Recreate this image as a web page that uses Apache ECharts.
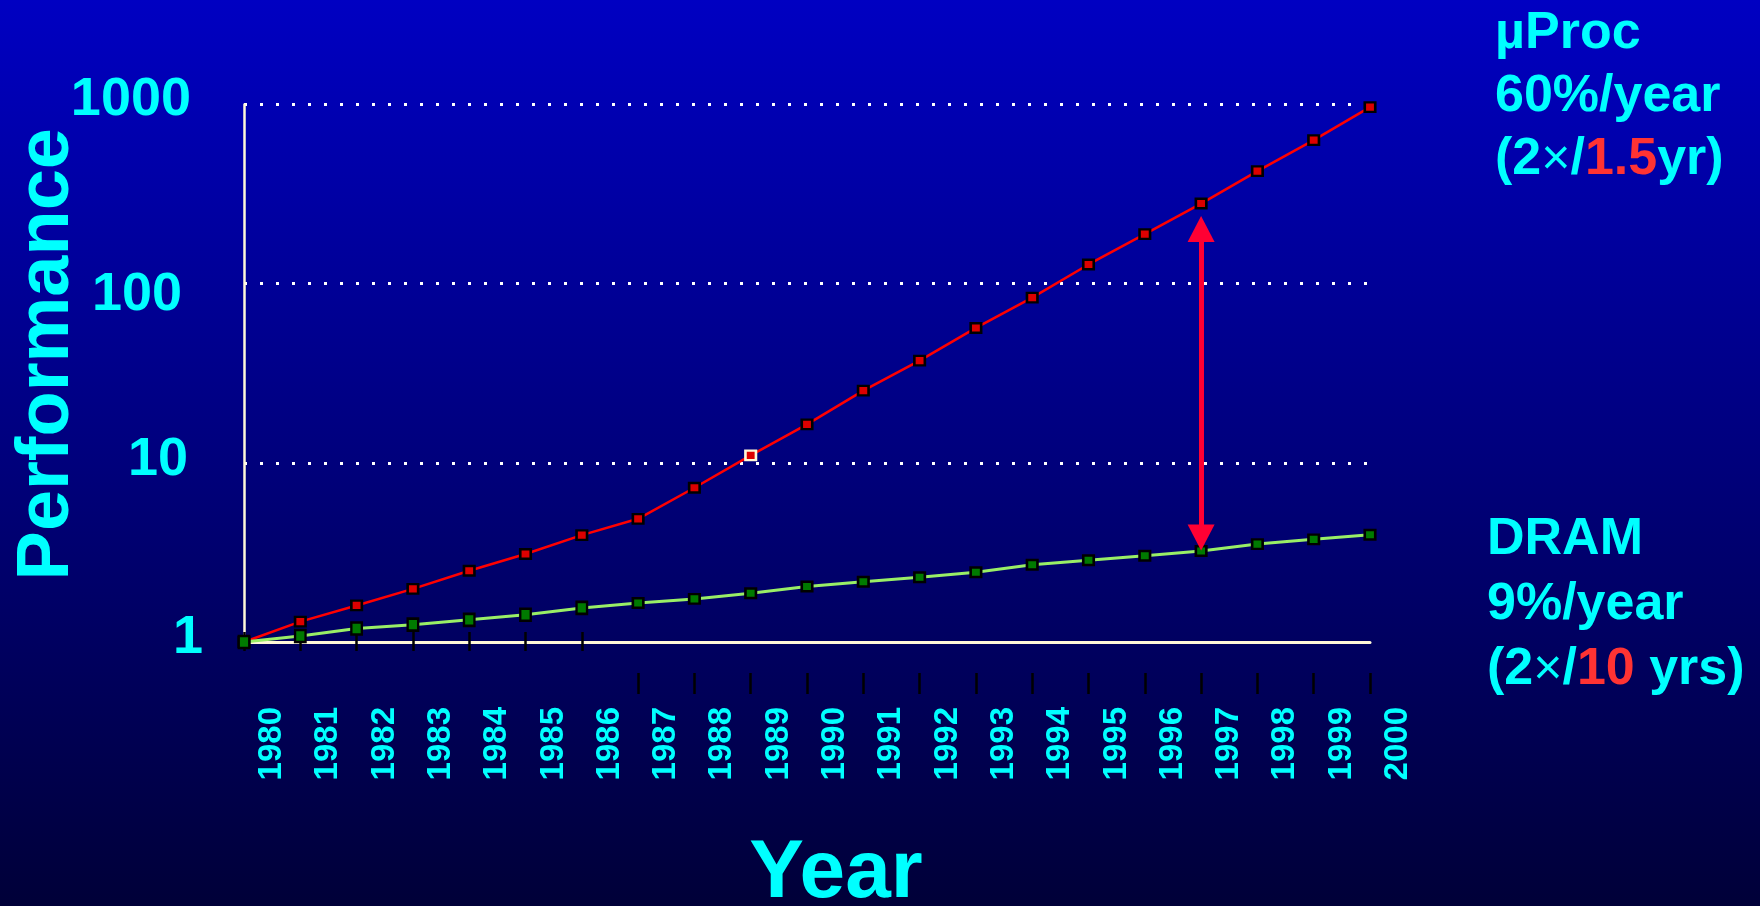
<!DOCTYPE html>
<html>
<head>
<meta charset="utf-8">
<script src="https://cdn.jsdelivr.net/npm/echarts@6/dist/echarts.min.js"></script>
<style>
  html, body { margin: 0; padding: 0; background: #000070; }
  #chart { width: 1760px; height: 906px; }
</style>
</head>
<body>
<div id="chart"></div>
<script>
  // values (log scale, 1980 = 1)
  const years = ['1980', '1981', '1982', '1983', '1984', '1985', '1986', '1987', '1988', '1989',
    '1990', '1991', '1992', '1993', '1994', '1995', '1996', '1997', '1998', '1999', '2000']
  const procPerf = [1, 1.3, 1.6, 1.98, 2.5, 3.1, 3.95, 4.87, 7.26, 11.0,
    16.4, 25.3, 37.2, 56.6, 83.6, 128, 189, 280, 425, 633, 967]
  const dramPerf = [1, 1.08, 1.19, 1.25, 1.33, 1.42, 1.55, 1.65, 1.74, 1.87,
    2.04, 2.17, 2.30, 2.45, 2.70, 2.86, 3.03, 3.22, 3.52, 3.74, 3.97]
  // the gap arrow between the two curves
  const gapYear = '1997'
  const gapTop = 202
  const gapBottom = 3.83

  const font = '"Liberation Sans", Arial, sans-serif'
  const cyan = '#00ffff'
  const cream = '#fff8d8'

  // small per-label nudges so the y labels sit like the slide
  const yLabelPad = {
    '1': [0, 0, 8, 0],
    '10': [0, 15, 6, 0],
    '100': [22, 21, 0, 0],
    '1000': [0, 12, 9, 0]
  }
  const yRich = {}
  Object.keys(yLabelPad).forEach(k => {
    yRich['v' + k] = { color: cyan, fontSize: 54, fontWeight: 'bold', fontFamily: font, padding: yLabelPad[k] }
  })

  const noteStyle = (lh) => ({
    c: { fill: cyan, fontSize: 52, fontWeight: 'bold', fontFamily: font, lineHeight: lh },
    x: { fill: cyan, fontSize: 50, fontWeight: 'normal', fontFamily: font, lineHeight: lh },
    r: { fill: '#ff3333', fontSize: 52, fontWeight: 'bold', fontFamily: font, lineHeight: lh }
  })

  const chart = echarts.init(document.getElementById('chart'))
  chart.setOption({
    animation: false,
    backgroundColor: {
      type: 'linear', x: 0, y: 0, x2: 0, y2: 1,
      colorStops: [{ offset: 0, color: '#0000c2' }, { offset: 1, color: '#000038' }]
    },
    grid: [
      { left: 244, right: 390, top: 104.5, bottom: 264, containLabel: false, outerBoundsMode: 'none' },
      { left: 272, right: 362, top: 104.5, bottom: 264, containLabel: false, outerBoundsMode: 'none' }
    ],
    xAxis: [
      {
        type: 'category', gridIndex: 0, data: years, boundaryGap: false,
        axisLine: { lineStyle: { color: cream, width: 3 } },
        axisTick: { show: false },
        axisLabel: { show: false },
        name: 'Year', nameLocation: 'middle', nameGap: 191, nameMoveOverlap: false,
        nameTextStyle: { color: cyan, fontSize: 82, fontWeight: 'bold', fontFamily: font, padding: [0, 0, 0, 58] }
      },
      {
        type: 'category', gridIndex: 0, data: years, boundaryGap: false, position: 'bottom', offset: -10,
        axisLine: { show: false },
        axisTick: { show: true, length: 19, interval: (i) => i <= 6, lineStyle: { color: '#000', width: 2.5 } },
        axisLabel: { show: false }
      },
      {
        type: 'category', gridIndex: 0, data: years, boundaryGap: false, position: 'bottom', offset: 31,
        axisLine: { show: false },
        axisTick: { show: true, length: 21, interval: (i) => i >= 7, lineStyle: { color: '#000', width: 2.5 } },
        axisLabel: { show: false }
      },
      {
        type: 'category', gridIndex: 1, data: years, boundaryGap: false,
        axisLine: { show: false },
        axisTick: { show: false },
        axisLabel: {
          rotate: 90, margin: 65, interval: 0,
          color: cyan, fontSize: 33, fontWeight: 'bold', fontFamily: font
        }
      }
    ],
    yAxis: [
      {
        type: 'log', gridIndex: 0, logBase: 10, min: 1, max: 1000,
        axisLine: { show: true, lineStyle: { color: cream, width: 2.5 } },
        axisTick: { show: false },
        splitLine: { show: true, lineStyle: { color: '#ffffff', width: 3, type: [3, 13] } },
        axisLabel: {
          margin: 41,
          formatter: v => '{v' + v + '|' + v + '}',
          rich: yRich
        },
        name: 'Performance', nameLocation: 'middle', nameRotate: 90, nameGap: 159, nameMoveOverlap: false,
        nameTextStyle: { color: cyan, fontSize: 74, fontWeight: 'bold', fontFamily: font, padding: [0, 0, 0, 38] }
      },
      { type: 'value', gridIndex: 1, show: false }
    ],
    series: [
      {
        name: 'uProc', type: 'line', xAxisIndex: 0, yAxisIndex: 0,
        data: procPerf.map((v, i) => i === 9 ? { value: v, itemStyle: { borderColor: cream } } : v),
        symbol: 'rect', symbolSize: [10.5, 9.5],
        lineStyle: { color: '#ff0000', width: 2.5 },
        itemStyle: { color: '#dd0000', borderColor: '#000', borderWidth: 2.5 },
        markLine: {
          silent: true,
          symbol: ['triangle', 'triangle'],
          symbolSize: [27, 26],
          label: { show: false },
          lineStyle: { color: '#ff0033', width: 5, type: 'solid' },
          data: [[{ coord: [gapYear, gapTop] }, { coord: [gapYear, gapBottom] }]]
        }
      },
      {
        name: 'DRAM', type: 'line', xAxisIndex: 0, yAxisIndex: 0,
        data: dramPerf,
        symbol: 'rect',
        symbolSize: (v, p) => p.dataIndex <= 6 ? [10.5, 12] : [10.5, 9.5],
        lineStyle: { color: '#99ee66', width: 3 },
        itemStyle: { color: '#007a00', borderColor: '#000', borderWidth: 2.5 }
      }
    ],
    graphic: [
      {
        type: 'text', left: 1495, top: 8,
        style: {
          text: '{c|µProc}\n{c|60%/year}\n{c|(2}{x|×}{c|/}{r|1.5}{c|yr)}',
          rich: noteStyle(63)
        }
      },
      {
        type: 'text', left: 1487, top: 514,
        style: {
          text: '{c|DRAM}\n{c|9%/year}\n{c|(2}{x|×}{c|/}{r|10}{c| yrs)}',
          rich: noteStyle(65)
        }
      }
    ]
  })
</script>
</body>
</html>
